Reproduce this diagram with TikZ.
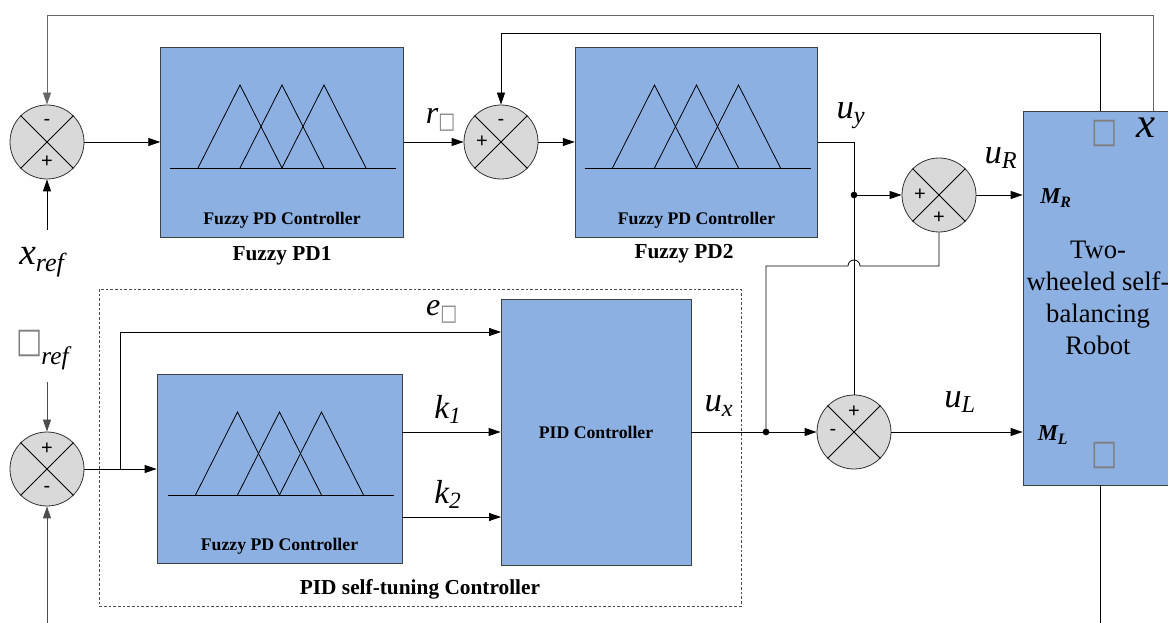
\documentclass[tikz,border=0pt]{standalone}
\usepackage{fontspec}
\setmainfont{LiberationSerif}[Extension=.ttf,UprightFont=*-Regular,BoldFont=*-Bold,ItalicFont=*-Italic,BoldItalicFont=*-BoldItalic]
\newfontfamily\glyphfont{DejaVu Sans}
\newfontfamily\signfont{Liberation Sans}
\usetikzlibrary{arrows.meta,calc}
\definecolor{blockblue}{RGB}{141,176,227}
\definecolor{sumgray}{RGB}{217,217,217}
\newcommand{\nobox}{{\glyphfont\textcolor{gray}{\scalebox{0.8}[1]{□}}}}

\begin{document}
\begin{tikzpicture}[x=0.75pt,y=-0.75pt,>={Triangle[length=9pt,width=6pt]},line width=0.6pt]
   \tikzstyle{block}=[draw=black!75,fill=blockblue]
   \tikzstyle{sum}=[circle,draw=black!80,fill=sumgray,minimum size=55.5pt,inner sep=0pt]
   \tikzstyle{sign}=[font=\signfont\fontsize{15}{15}\selectfont,inner sep=0pt]
   \tikzstyle{blocklabel}=[font=\rmfamily\fontsize{13.3}{13.3}\selectfont\bfseries]
   \tikzstyle{title}=[font=\rmfamily\fontsize{16}{16}\selectfont\bfseries]
   \tikzstyle{dot}=[circle,fill,inner sep=0pt,minimum size=5pt]
   \tikzset{sig/.style={font=\rmfamily\fontsize{#1}{#1}\selectfont\itshape,inner sep=0pt}}

   \useasboundingbox (0,0) rectangle (1168,623);

   % blocks
   \node (fpd1) [block,minimum width=182pt,minimum height=142.5pt] at (282,142) {};
   \node (fpd2) [block,minimum width=182pt,minimum height=142.5pt] at (696.5,142) {};
   \node (fpd3) [block,minimum width=183.75pt,minimum height=141.75pt] at (279.5,469) {};
   \node (pid) [block,minimum width=142.5pt,minimum height=199.5pt] at (596,432) {};
   \node (rob) [block,minimum width=114pt,minimum height=280.5pt] at (1099,298) {};

   % membership functions
   \foreach \b in {fpd1,fpd2,fpd3} {
      \draw ($(\b)+(-112,26)$) -- ++(226,0);
      \foreach \p in {-42,0,42}
         \draw ($(\b)+({\p-42},26)$) -- ++(42,-83) -- ++(42,83);
   }
   \node [blocklabel] at ($(fpd1)+(0,78)$) {Fuzzy PD Controller};
   \node [blocklabel] at ($(fpd2)+(0,78)$) {Fuzzy PD Controller};
   \node [blocklabel] at ($(fpd3)+(0,77)$) {Fuzzy PD Controller};
   \node [blocklabel] at (pid) {PID Controller};
   \node [title] at (282,256) {Fuzzy PD1};
   \node [title] at (684,254) {Fuzzy PD2};
   \node [title] at (420,589) {PID self-tuning Controller};
   \draw [dashed,black!70,line width=0.5pt,dash pattern=on 2pt off 1.5pt] (99,289) rectangle (741,606);

   % robot
   \node [font=\rmfamily\fontsize{20}{23.8}\selectfont,align=center] at (1098,298) {Two-\\wheeled self-\\balancing\\Robot};
   \node [font=\rmfamily\fontsize{17}{17}\selectfont\bfseries\itshape] at (1056,198) {M\textsubscript{R}};
   \node [font=\rmfamily\fontsize{17}{17}\selectfont\bfseries\itshape] at (1053,435) {M\textsubscript{L}};
   \node [font=\fontsize{26}{26}\selectfont] at (1105,133) {\nobox};
   \node [font=\fontsize{26}{26}\selectfont] at (1105,455) {\nobox};
   \node [sig=32] at (1146,128) {x};

   % summing junctions
   \node (s1) [sum] at (47,142) {};
   \node (s2) [sum] at (501,142) {};
   \node (s3) [sum] at (939,195) {};
   \node (s4) [sum] at (854,432) {};
   \node (s5) [sum] at (47,469) {};
   \foreach \s in {s1,s2,s3,s4,s5} {
      \draw (\s.north west) -- (\s.south east);
      \draw (\s.north east) -- (\s.south west);
   }
   \node [sign] at ($(s1)+(0,-20)$) {-};
   \node [sign] at ($(s1)+(0,20)$) {+};
   \node [sign] at ($(s2)+(0,-20)$) {-};
   \node [sign] at ($(s2)+(-19,0)$) {+};
   \node [sign] at ($(s3)+(-19,0)$) {+};
   \node [sign] at ($(s3)+(0,23)$) {+};
   \node [sign] at ($(s4)+(0,-20)$) {+};
   \node [sign] at ($(s4)+(-21,0)$) {-};
   \node [sign] at ($(s5)+(0,-20)$) {+};
   \node [sign] at ($(s5)+(0,20)$) {-};

   % junction points
   \coordinate (j1) at (854,195);
   \coordinate (j2) at (766,432);
   \coordinate (j3) at (120,469);
   \coordinate (hop) at (854,266);
   \coordinate (ein) at (501,332);
   \coordinate (k2in) at (501,517);
   \coordinate (fb1) at (1153,15);
   \coordinate (fb2) at (1100,33);
   \coordinate (in1) at (47,230);
   \coordinate (in2) at (47,382);
   \coordinate (in3) at (47,623);
   \coordinate (out3) at (1100,623);

   % signals
   \node [sig=28] at (42,262) {x\textsubscript{ref}};
   \node [font=\fontsize{26}{26}\selectfont,inner sep=0pt] at (30,343) {\nobox};
   \node [sig=19] at (55,358) {ref};
   \node [sig=24] at (441,120) {r\textsubscript{\nobox}};
   \node [sig=24] at (442,312) {e\textsubscript{\nobox}};
   \node [sig=25] at (448,409) {k\textsubscript{1}};
   \node [sig=25] at (448,494) {k\textsubscript{2}};
   \node [sig=26] at (851,116) {u\textsubscript{y}};
   \node [sig=26] at (1001,158) {u\textsubscript{R}};
   \node [sig=26] at (719,406) {u\textsubscript{x}};
   \node [sig=26] at (960,402) {u\textsubscript{L}};

   % connectors
   \draw [->] (in1) -- (s1.south);
   \draw [->] (s1.east) -- (fpd1.west);
   \draw [->] (fpd1.east) -- (s2.west);
   \draw [->] (s2.east) -- (fpd2.west);
   \draw (fpd2.east) -| (j1);
   \draw [->] (j1) -- (s3.west);
   \draw (j1) -- (s4.north);
   \draw [->] (s3.east) -- (s3.east -| rob.west);
   \draw (s3.south) |- ([xshift=4.5pt]hop) arc[start angle=0,end angle=180,radius=4.5pt] -- (hop -| j2) -- (j2);
   \draw [->] (pid.east) -- (s4.west);
   \draw [->] (s4.east) -- (s4.east -| rob.west);
   \draw [->,black!60] (rob.north -| fb1) -- (fb1) -| (s1.north);
   \draw [->] (rob.north -| fb2) -- (fb2) -| (s2.north);
   \draw [->,black!70] (in2) -- (s5.north);
   \draw [->,black!70] (in3) -- (s5.south);
   \draw (out3 |- rob.south) -- (out3);
   \draw [->] (s5.east) -- (fpd3.west);
   \draw [->] (j3) |- (ein);
   \draw [->] (fpd3.east |- pid.west) -- (pid.west);
   \draw [->] (fpd3.east |- k2in) -- (k2in);
   \foreach \j in {j1,j2}
      \node [dot] at (\j) {};
\end{tikzpicture}
\end{document}
